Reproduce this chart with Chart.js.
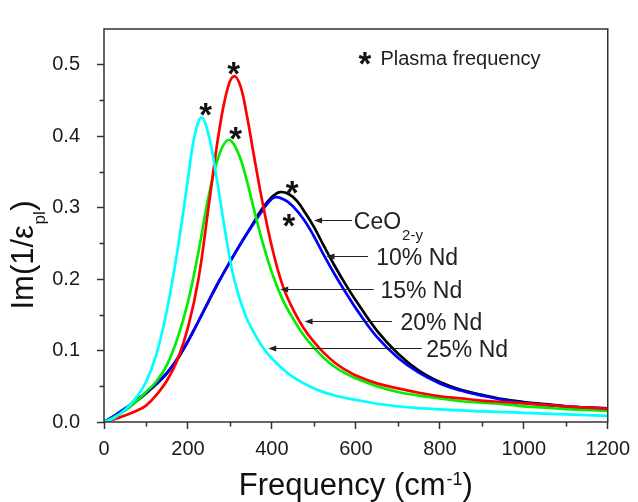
<!DOCTYPE html>
<html>
<head>
<meta charset="utf-8">
<script src="https://cdn.jsdelivr.net/npm/chart.js@4.4.1/dist/chart.umd.min.js"></script>
<style>
html,body{margin:0;padding:0;background:#ffffff;}
canvas{display:block;}
</style>
</head>
<body>
<canvas id="c" width="638" height="502"></canvas>
<script>
// ---------------- data ----------------
const freqCeO2 = [0,25,50,75,100,125,150,175,200,225,250,275,300,325,350,375,400,419,440,460,480,500,525,550,575,600,650,700,750,800,850,900,950,1000,1050,1100,1150,1200];
const lossCeO2 = [0,0.008,0.017,0.028,0.040,0.053,0.068,0.088,0.113,0.141,0.170,0.198,0.224,0.249,0.273,0.297,0.315,0.3217,0.319,0.309,0.292,0.273,0.245,0.218,0.193,0.170,0.128,0.096,0.072,0.056,0.045,0.038,0.032,0.028,0.025,0.022,0.020,0.019];

const freqNd10 = [0,25,50,75,100,125,150,175,200,225,250,275,300,325,350,375,390,407,430,450,475,500,525,550,575,600,650,700,750,800,850,900,950,1000,1050,1100,1150,1200];
const lossNd10 = [0,0.009,0.019,0.030,0.041,0.054,0.069,0.089,0.113,0.141,0.170,0.198,0.224,0.249,0.272,0.294,0.306,0.3145,0.311,0.302,0.284,0.260,0.232,0.206,0.182,0.159,0.119,0.090,0.069,0.054,0.044,0.037,0.031,0.027,0.024,0.022,0.020,0.019];

const freqNd15 = [0,25,50,75,100,125,150,175,200,225,250,275,297,320,340,360,380,400,425,450,475,500,525,550,575,600,650,700,750,800,850,900,950,1000,1050,1100,1150,1200];
const lossNd15 = [0,0.007,0.016,0.028,0.042,0.057,0.080,0.117,0.168,0.238,0.318,0.375,0.395,0.376,0.338,0.291,0.247,0.209,0.172,0.145,0.122,0.104,0.089,0.077,0.068,0.061,0.050,0.042,0.037,0.033,0.029,0.027,0.025,0.022,0.020,0.018,0.017,0.0157];

const freqNd20 = [0,25,50,75,100,125,150,175,200,225,250,275,295,310,325,340,355,375,400,425,450,475,500,525,550,575,600,650,700,750,800,850,900,950,1000,1050,1100,1150,1200];
const lossNd20 = [0,0.004,0.009,0.015,0.023,0.038,0.058,0.087,0.132,0.200,0.305,0.410,0.468,0.484,0.470,0.430,0.380,0.315,0.245,0.192,0.158,0.132,0.112,0.096,0.083,0.073,0.065,0.054,0.047,0.041,0.036,0.033,0.030,0.028,0.026,0.024,0.022,0.020,0.0185];

const freqNd25 = [0,25,50,75,100,125,150,175,200,215,232,250,270,290,310,335,360,385,410,450,500,550,600,650,700,750,800,850,900,950,1000,1100,1200];
const lossNd25 = [0,0.006,0.017,0.033,0.056,0.095,0.157,0.240,0.340,0.398,0.426,0.400,0.335,0.262,0.200,0.152,0.122,0.099,0.083,0.063,0.047,0.037,0.031,0.0255,0.022,0.0195,0.0177,0.0162,0.0150,0.0139,0.0129,0.0107,0.0085];

const seriesNames  = ['25% Nd','20% Nd','15% Nd','10% Nd','CeO2-y'];
const xTickValues  = [0,200,400,600,800,1000,1200];
const yTickValues  = [0.0,0.1,0.2,0.3,0.4,0.5];
const xMinorValues = [100,300,500,700,900,1100];
const yMinorValues = [0.05,0.15,0.25,0.35,0.45];

// plasma-frequency markers (frequency, value) and arrow callouts, in data units
const starMarks = [[242.6,0.438],[309,0.4946],[313.7,0.404],[448.6,0.3278],[440.6,0.2817]];
const callouts = [
  {text:'CeO', sub:'2-y', head:[500.4,0.2821], tail:[591,0.2821], textAt:595},
  {text:'10% Nd', head:[530,0.2318], tail:[629,0.2318], textAt:648.6},
  {text:'15% Nd', head:[419.7,0.186], tail:[642.6,0.186], textAt:658.5},
  {text:'20% Nd', head:[477.8,0.1419], tail:[686,0.1419], textAt:706},
  {text:'25% Nd', head:[391.3,0.1038], tail:[757,0.1038], textAt:767.6}
];
const plasmaNote = {star:[622,0.5092], textAt:[658.5,0.5092], text:'Plasma frequency'};

// ---------------- chart ----------------
const FONT = '"Liberation Sans", Arial, Helvetica, sans-serif';
Chart.defaults.font.family = FONT;

const palette = ['#00ffff','#ff0000','#00ee00','#0000ff','#000000'];
const freqs = [freqNd25, freqNd20, freqNd15, freqNd10, freqCeO2];
const losses = [lossNd25, lossNd20, lossNd15, lossNd10, lossCeO2];

const datasets = seriesNames.map((name, i) => ({
  label: name,
  data: freqs[i].map((f, k) => ({x: f, y: losses[i][k]})),
  borderColor: palette[i],
  backgroundColor: palette[i],
  borderWidth: 2.7,
  pointRadius: 0,
  fill: false,
  tension: 0.4
}));

function drawStar(ctx, cx, cy) {
  ctx.save();
  ctx.font = 'bold 100px ' + FONT;
  let m = ctx.measureText('*');
  const h100 = m.actualBoundingBoxAscent + m.actualBoundingBoxDescent;
  const size = 12.5 / h100 * 100;
  ctx.font = 'bold ' + size.toFixed(2) + 'px ' + FONT;
  m = ctx.measureText('*');
  ctx.textAlign = 'left';
  ctx.textBaseline = 'alphabetic';
  const x = cx - (m.actualBoundingBoxRight - m.actualBoundingBoxLeft) / 2;
  const y = cy + (m.actualBoundingBoxAscent - m.actualBoundingBoxDescent) / 2;
  ctx.fillStyle = '#111';
  ctx.fillText('*', x, y);
  ctx.restore();
}

const notesPlugin = {
  id: 'notes',
  afterDatasetsDraw(chart) {
    const {ctx, chartArea: ca, scales} = chart;
    const xs = scales.x, ys = scales.y;
    ctx.save();
    // frame
    ctx.strokeStyle = '#333';
    ctx.lineWidth = 1.5;
    ctx.strokeRect(ca.left, ca.top, ca.right - ca.left, ca.bottom - ca.top);
    // minor ticks
    ctx.beginPath();
    xMinorValues.forEach(v => { const p = Math.round(xs.getPixelForValue(v)) + 0.5; ctx.moveTo(p, ca.bottom); ctx.lineTo(p, ca.bottom + 4.5); });
    yMinorValues.forEach(v => { const p = Math.round(ys.getPixelForValue(v)) + 0.5; ctx.moveTo(ca.left, p); ctx.lineTo(ca.left - 4.5, p); });
    ctx.stroke();

    // callouts
    ctx.strokeStyle = '#222';
    ctx.fillStyle = '#222';
    ctx.lineWidth = 1;
    callouts.forEach(c => {
      const hx = xs.getPixelForValue(c.head[0]), hy = Math.round(ys.getPixelForValue(c.head[1])) + 0.5;
      const tx = xs.getPixelForValue(c.tail[0]);
      ctx.beginPath(); ctx.moveTo(tx, hy); ctx.lineTo(hx + 6, hy); ctx.stroke();
      ctx.beginPath(); ctx.moveTo(hx, hy); ctx.lineTo(hx + 8, hy - 3); ctx.lineTo(hx + 8, hy + 3); ctx.closePath(); ctx.fill();
      const lx = xs.getPixelForValue(c.textAt);
      ctx.font = '23px ' + FONT;
      ctx.textAlign = 'left'; ctx.textBaseline = 'alphabetic';
      const base = hy + 8;
      ctx.fillText(c.text, lx, base);
      if (c.sub) {
        const w = ctx.measureText(c.text).width;
        ctx.font = '15px ' + FONT;
        ctx.fillText(c.sub, lx + w + 1, base + 11);
      }
    });

    // plasma frequency stars
    starMarks.forEach(s => drawStar(ctx, xs.getPixelForValue(s[0]), ys.getPixelForValue(s[1])));
    drawStar(ctx, xs.getPixelForValue(plasmaNote.star[0]), ys.getPixelForValue(plasmaNote.star[1]));
    ctx.fillStyle = '#222';
    ctx.font = '20px ' + FONT;
    ctx.textAlign = 'left'; ctx.textBaseline = 'alphabetic';
    ctx.fillText(plasmaNote.text, xs.getPixelForValue(plasmaNote.textAt[0]), ys.getPixelForValue(plasmaNote.textAt[1]) + 6.5);

    // x axis title: Frequency (cm^-1)
    ctx.fillStyle = '#111';
    const tSize = 31, sSize = 18;
    ctx.font = tSize + 'px ' + FONT;
    const p1 = 'Frequency (cm', p3 = ')';
    const w1 = ctx.measureText(p1).width, w3 = ctx.measureText(p3).width;
    ctx.font = sSize + 'px ' + FONT;
    const w2 = ctx.measureText('-1').width;
    const total = w1 + w2 + w3 + 1;
    let x0 = (ca.left + ca.right) / 2 - total / 2;
    const by = ca.bottom + 73;
    ctx.font = tSize + 'px ' + FONT;
    ctx.fillText(p1, x0, by);
    ctx.font = sSize + 'px ' + FONT;
    ctx.fillText('-1', x0 + w1 + 1, by - 10);
    ctx.font = tSize + 'px ' + FONT;
    ctx.fillText(p3, x0 + w1 + w2 + 1, by);

    // y axis title: Im(1/eps_pl)
    ctx.save();
    const cyT = (ca.top + ca.bottom) / 2 + 29.5;
    ctx.translate(ca.left - 70.7, cyT);
    ctx.rotate(-Math.PI / 2);
    const ySize = 31, ySub = 17;
    ctx.font = ySize + 'px ' + FONT;
    const a1 = 'Im(1/\u03b5', a3 = ')';
    const u1 = ctx.measureText(a1).width, u3 = ctx.measureText(a3).width;
    ctx.font = ySub + 'px ' + FONT;
    const u2 = ctx.measureText('pl').width;
    const tot = u1 + u2 + u3 + 1;
    let s0 = -tot / 2;
    ctx.font = ySize + 'px ' + FONT;
    ctx.fillText(a1, s0, 0);
    ctx.font = ySub + 'px ' + FONT;
    ctx.fillText('pl', s0 + u1 + 0.5, 12);
    ctx.font = ySize + 'px ' + FONT;
    ctx.fillText(a3, s0 + u1 + u2 + 1, 0);
    ctx.restore();

    ctx.restore();
  }
};

const bgPlugin = {
  id: 'bg',
  beforeDraw(chart) {
    const {ctx, width, height} = chart;
    ctx.save(); ctx.fillStyle = '#fff'; ctx.fillRect(0, 0, width, height); ctx.restore();
  }
};

new Chart(document.getElementById('c'), {
  type: 'line',
  data: { datasets },
  options: {
    responsive: false,
    animation: false,
    devicePixelRatio: 1,
    layout: { padding: { left: 0, right: 28, top: 14, bottom: 0 } },
    plugins: { legend: { display: false }, tooltip: { enabled: false }, title: { display: false } },
    scales: {
      x: {
        type: 'linear', min: 0, max: 1200,
        afterBuildTicks: s => { s.ticks = xTickValues.map(v => ({value: v})); },
        ticks: { color: '#1a1a1a', font: { size: 20 }, padding: 8, maxRotation: 0, autoSkip: false,
                 callback: v => String(v) },
        grid: { drawOnChartArea: false, drawTicks: true, tickLength: 7, tickWidth: 1.5, tickColor: '#333' },
        border: { display: false },
        afterFit: s => { s.height = 80; }
      },
      y: {
        type: 'linear', min: 0, max: 0.55,
        afterBuildTicks: s => { s.ticks = yTickValues.map(v => ({value: v})); },
        ticks: { color: '#1a1a1a', font: { size: 20 }, padding: 17, autoSkip: false,
                 callback: v => Number(v).toFixed(1) },
        grid: { drawOnChartArea: false, drawTicks: true, tickLength: 7, tickWidth: 1.5, tickColor: '#333' },
        border: { display: false },
        afterFit: s => { s.width = 104; }
      }
    }
  },
  plugins: [bgPlugin, notesPlugin]
});
</script>
</body>
</html>
